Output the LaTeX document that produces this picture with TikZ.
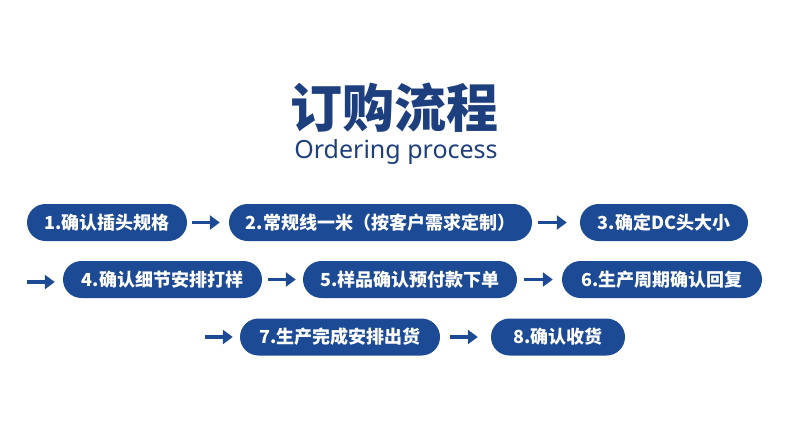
\documentclass[tikz,border=0pt]{standalone}
\usepackage{fontspec}
\setmainfont{Noto Sans CJK SC}
\newfontfamily\latinf{Noto Sans}
\usetikzlibrary{arrows.meta}
\definecolor{nb}{HTML}{1D4A94}
\definecolor{tb}{HTML}{1E3F7E}
\begin{document}
\begin{tikzpicture}[x=1pt,y=-1pt,
  pill/.style={fill=nb,rounded corners=18.5pt,minimum height=37pt,inner sep=0pt,text=white,font=\fontsize{18}{20}\selectfont\bfseries},
  arr/.style={draw=nb,line width=3.5pt,-{Triangle[length=10pt,width=14pt]}}]
\useasboundingbox (0,0) rectangle (790,445);
\node[text=tb,font=\fontsize{52}{56}\selectfont\bfseries] (title) at (394,108) {订购流程};
\node[text=tb,font=\latinf\fontsize{25}{28}\selectfont] (sub) at (396,152) {Ordering process};
\node[pill,minimum width=160pt] (p1) at (107,222.5) {1.确认插头规格};
\node[pill,minimum width=303pt] (p2) at (380.5,222.5) {2.常规线一米（按客户需求定制）};
\node[pill,minimum width=168pt] (p3) at (664,222.5) {3.确定DC头大小};
\node[pill,minimum width=199pt] (p4) at (162.5,279.5) {4.确认细节安排打样};
\node[pill,minimum width=214pt] (p5) at (410,279.5) {5.样品确认预付款下单};
\node[pill,minimum width=200pt] (p6) at (662,279.5) {6.生产周期确认回复};
\node[pill,minimum width=200pt] (p7) at (340,337) {7.生产完成安排出货};
\node[pill,minimum width=134pt] (p8) at (558,337) {8.确认收货};
\coordinate (s4) at (27,282);
\coordinate (s7) at (205,337);
\draw[arr] ([xshift=5pt]p1.east) -- ([xshift=-9pt]p2.west);
\draw[arr] ([xshift=6pt]p2.east) -- ([xshift=-13pt]p3.west);
\draw[arr] (s4) -- ([xshift=-8pt]s4-|p4.west);
\draw[arr] ([xshift=6pt]p4.east) -- ([xshift=-7pt]p5.west);
\draw[arr] ([xshift=7pt]p5.east) -- ([xshift=-9pt]p6.west);
\draw[arr] (s7) -- ([xshift=-7pt]p7.west);
\draw[arr] ([xshift=10pt]p7.east) -- ([xshift=-13pt]p8.west);
\end{tikzpicture}
\end{document}
